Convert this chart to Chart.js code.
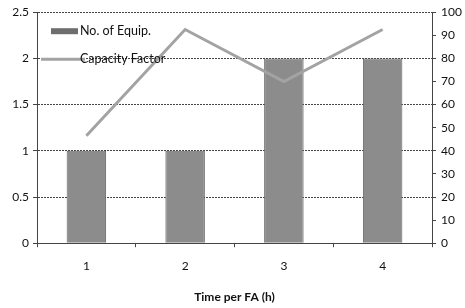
<!DOCTYPE html>
<html>
<head>
<meta charset="utf-8">
<script src="https://cdn.jsdelivr.net/npm/chart.js@4"></script>
<style>
  html, body { margin: 0; padding: 0; background: #fff; }
  #wrap { width: 465px; height: 308px; }
</style>
</head>
<body>
<div id="wrap"><canvas id="chart" width="465" height="308"></canvas></div>
<script>
const categories = ["1", "2", "3", "4"];
const equipCount = [1, 1, 2, 2];
const capacityFactor = [46.5, 92.5, 70, 92.5];
const seriesNames = ["No. of Equip.", "Capacity Factor"];
const xTitle = "Time per FA (h)";

const FONT = "Lato, 'Open Sans', sans-serif";
const barColor = "#8c8c8c";
const lineColor = "#a3a3a3";
const gridColor = "#444";

// legend drawn inside plot area, top left
const insideLegend = {
  id: "insideLegend",
  afterDatasetsDraw(chart) {
    const ctx = chart.ctx;
    const a = chart.chartArea;
    ctx.save();
    ctx.font = "12.5px " + FONT;
    ctx.textBaseline = "middle";
    ctx.fillStyle = "#6e6e6e";
    ctx.fillRect(a.left + 14, a.top + 16, 27, 6);
    ctx.fillStyle = "#111";
    ctx.fillText(seriesNames[0], a.left + 43, a.top + 19);
    ctx.strokeStyle = lineColor;
    ctx.lineWidth = 3;
    ctx.beginPath();
    ctx.moveTo(a.left + 4, a.top + 47);
    ctx.lineTo(a.left + 48, a.top + 47);
    ctx.stroke();
    ctx.fillStyle = "#111";
    ctx.fillText(seriesNames[1], a.left + 43, a.top + 47);
    ctx.restore();
  }
};

new Chart(document.getElementById("chart"), {
  data: {
    labels: categories,
    datasets: [
      {
        type: "line",
        label: seriesNames[1],
        data: capacityFactor,
        yAxisID: "y2",
        borderColor: lineColor,
        borderWidth: 3,
        pointRadius: 0,
        tension: 0,
        order: 0
      },
      {
        type: "bar",
        label: seriesNames[0],
        data: equipCount,
        yAxisID: "y",
        backgroundColor: barColor,
        borderColor: "#666",
        borderWidth: 1,
        barPercentage: 0.8,
        categoryPercentage: 0.5,
        order: 1
      }
    ]
  },
  options: {
    responsive: false,
    animation: false,
    layout: { padding: { top: 10, left: 0, right: 0, bottom: 0 } },
    plugins: {
      legend: { display: false },
      tooltip: { enabled: false }
    },
    scales: {
      x: {
        offset: true,
        grid: {
          display: true,
          offset: true,
          drawOnChartArea: false,
          color: gridColor,
          tickLength: 4
        },
        border: { color: gridColor, width: 1 },
        ticks: { color: "#111", font: { family: FONT, size: 12 }, padding: 12 },
        title: {
          display: true,
          text: xTitle,
          color: "#111",
          font: { family: FONT, size: 12, weight: "bold" },
          padding: { top: 4 }
        }
      },
      y: {
        position: "left",
        min: 0,
        max: 2.5,
        ticks: {
          stepSize: 0.5,
          color: "#111",
          font: { family: FONT, size: 12 },
          padding: 4,
          callback: (v) => String(v)
        },
        grid: { color: gridColor, lineWidth: 1, tickLength: 4, tickBorderDash: [], },
        border: { color: gridColor, dash: [2, 1] },
        afterFit(s) { s.width = 37; }
      },
      y2: {
        position: "right",
        min: 0,
        max: 100,
        ticks: { stepSize: 10, color: "#111", font: { family: FONT, size: 12 }, padding: 5 },
        grid: { drawOnChartArea: false, color: gridColor, tickLength: 4 },
        border: { color: gridColor },
        afterFit(s) { s.width = 33; }
      }
    }
  },
  plugins: [insideLegend]
});
</script>
</body>
</html>
